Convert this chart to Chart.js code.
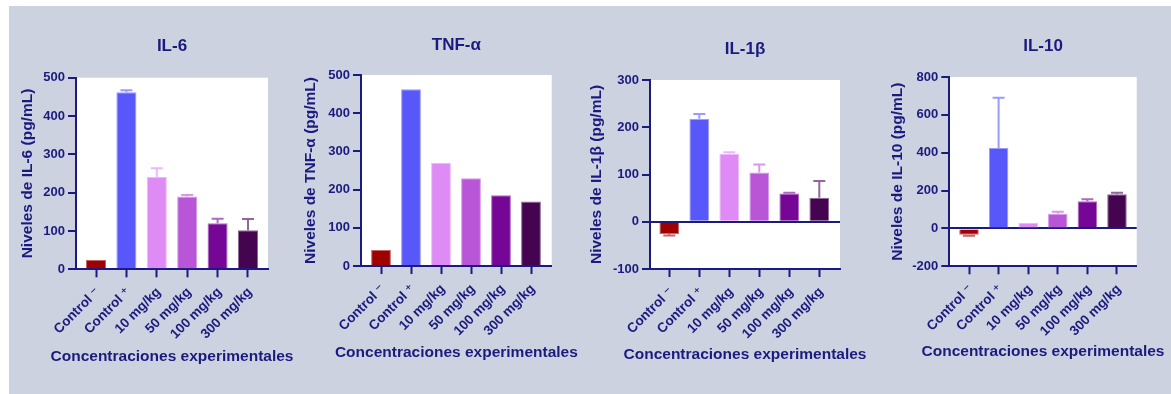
<!DOCTYPE html>
<html>
<head>
<meta charset="utf-8">
<script src="https://cdn.jsdelivr.net/npm/chart.js@4.4.1/dist/chart.umd.min.js"></script>
<style>
  html, body { margin: 0; padding: 0; background: #ffffff; width: 1171px; height: 394px; overflow: hidden; }
  #panel { position: absolute; left: 9px; top: 6px; right: 0; bottom: 0; background: #ccd2e0; }
  canvas { position: absolute; top: 0; }
</style>
</head>
<body>
<div id="panel"></div>
<canvas id="il6" width="300" height="394" style="left:9px"></canvas>
<canvas id="tnf" width="290" height="394" style="left:290px"></canvas>
<canvas id="il1b" width="290" height="394" style="left:580px"></canvas>
<canvas id="il10" width="301" height="394" style="left:870px"></canvas>
<script>
// ---- data ----
const categories = ['Control \u207B', 'Control \u207A', '10 mg/kg', '50 mg/kg', '100 mg/kg', '300 mg/kg'];
const barColors = ['#a00000', '#5858fa', '#de8bf5', '#b955d7', '#760796', '#440450'];

const il6Values  = [24, 462, 241, 190, 120, 102];
const il6Errors  = [0, 5, 23, 4, 12, 29];
const tnfValues  = [42, 463, 270, 230, 185, 169];
const tnfErrors  = [0, 0, 0, 0, 0, 0];
const il1bValues = [-26, 218, 144, 104, 60, 51];
const il1bErrors = [3, 10, 3, 17, 1.5, 35];
const il10Values = [-33, 425, 30, 77, 144, 181];
const il10Errors = [5, 265, 0, 11, 10, 7];

// y-axis ranges: [min, max, step]
const il6Axis  = [0, 500, 100];
const tnfAxis  = [0, 500, 100];
const il1bAxis = [-100, 300, 100];
const il10Axis = [-200, 800, 200];

const xAxisTitle = 'Concentraciones experimentales';

// ---- styling ----
const NAVY = '#1b1b7f';
const FONT = "'Liberation Sans', Arial, 'DejaVu Sans', sans-serif";

function lighten(hex, t) {
  const n = parseInt(hex.slice(1), 16);
  const r = (n >> 16) & 255, g = (n >> 8) & 255, b = n & 255;
  const m = c => Math.round(c + (255 - c) * t);
  return `rgb(${m(r)},${m(g)},${m(b)})`;
}
const edgeColors = barColors.map(c => lighten(c, 0.4));

// white plotting area behind the bars
const plotBackground = {
  id: 'plotBackground',
  beforeDraw(chart) {
    const { ctx, chartArea: a } = chart;
    ctx.save();
    ctx.fillStyle = '#ffffff';
    ctx.fillRect(a.left, a.top, a.right - a.left, a.bottom - a.top);
    ctx.restore();
  }
};

// one-sided error bars drawn away from zero
const errorBars = {
  id: 'errorBars',
  afterDatasetsDraw(chart, args, opts) {
    const errs = opts.errors;
    if (!errs) return;
    const ctx = chart.ctx;
    const yScale = chart.scales.y;
    const meta = chart.getDatasetMeta(0);
    const pts = chart.data.datasets[0].data;
    meta.data.forEach((bar, i) => {
      const e = errs[i];
      if (!e) return;
      const v = pts[i].y;
      const end = yScale.getPixelForValue(v + (v < 0 ? -e : e));
      ctx.save();
      ctx.strokeStyle = edgeColors[i];
      ctx.lineWidth = 2;
      ctx.beginPath();
      ctx.moveTo(bar.x, bar.y);
      ctx.lineTo(bar.x, end);
      ctx.moveTo(bar.x - 6, end);
      ctx.lineTo(bar.x + 6, end);
      ctx.stroke();
      ctx.restore();
    });
  }
};

// x-axis caption centred under the plotting area, at its natural width
const axisCaption = {
  id: 'axisCaption',
  afterDraw(chart, args, opts) {
    const { ctx, chartArea: a } = chart;
    ctx.save();
    ctx.fillStyle = NAVY;
    ctx.font = `bold ${opts.size}px ${FONT}`;
    ctx.textAlign = 'center';
    ctx.textBaseline = 'middle';
    ctx.fillText(opts.text, (a.left + a.right) / 2, opts.y);
    ctx.restore();
  }
};

function makePanel(id, title, yTitle, values, errors, axis, lay) {
  const points = values.map((v, i) => ({ x: i, y: v }));
  new Chart(document.getElementById(id), {
    type: 'bar',
    data: {
      datasets: [{
        data: points,
        backgroundColor: barColors,
        borderColor: edgeColors,
        borderWidth: 1,
        barPercentage: 0.66,
        categoryPercentage: 1
      }]
    },
    plugins: [plotBackground, errorBars, axisCaption],
    options: {
      responsive: false,
      animation: false,
      devicePixelRatio: 1,
      layout: { padding: { left: 0, right: lay.right, top: 0, bottom: 0 } },
      plugins: {
        legend: { display: false },
        tooltip: { enabled: false },
        title: {
          display: true, text: title, color: NAVY, fullSize: false,
          font: { family: FONT, size: 17, weight: 'bold' },
          padding: { top: lay.titleTop, bottom: lay.titleBottom }
        },
        errorBars: { errors: errors },
        axisCaption: { text: xAxisTitle, size: 15.5, y: lay.xTitleY }
      },
      scales: {
        x: {
          type: 'linear', min: lay.xMin, max: lay.xMax, offset: false,
          afterBuildTicks: s => { s.ticks = categories.map((_, i) => ({ value: i })); },
          afterFit: s => { s.height = lay.xHeight; },
          ticks: {
            callback: v => categories[v], autoSkip: false,
            minRotation: 45, maxRotation: 45, padding: 7, labelOffset: 2,
            color: NAVY, font: { family: FONT, size: 13.5, weight: 'bold' }
          },
          grid: { offset: false, drawOnChartArea: false, drawTicks: true, tickLength: 8, tickWidth: 2, tickColor: NAVY, color: NAVY },
          border: { color: NAVY, width: 2 }
        },
        y: {
          z: 1,
          min: axis[0], max: axis[1],
          afterFit: s => { s.width = lay.yWidth; },
          ticks: {
            stepSize: axis[2], padding: 3, color: NAVY,
            font: { family: FONT, size: 13, weight: 'bold' }
          },
          grid: {
            drawOnChartArea: true, drawTicks: true, tickLength: 8, tickWidth: 2, tickColor: NAVY,
            lineWidth: 2,
            color: c => (c.tick && c.tick.value === 0 ? NAVY : 'rgba(0,0,0,0)')
          },
          border: { color: NAVY, width: 2 },
          title: {
            display: true, text: yTitle, color: NAVY,
            font: { family: FONT, size: 15.5, weight: 'bold' },
            padding: { top: lay.yTitleTop, bottom: 0 }
          }
        }
      }
    }
  });
}

makePanel('il6', 'IL-6', 'Niveles de IL-6 (pg/mL)', il6Values, il6Errors, il6Axis,
  { right: 41, yWidth: 67, yTitleTop: 9.2, titleTop: 36.1, titleBottom: 21.2, xHeight: 124.7, xTitleY: 356.7, xMin: -0.658, xMax: 5.658 });
makePanel('tnf', 'TNF-\u03B1', 'Niveles de TNF-\u03B1 (pg/mL)', tnfValues, tnfErrors, tnfAxis,
  { right: 28.3, yWidth: 71, yTitleTop: 11.5, titleTop: 34.8, titleBottom: 19.8, xHeight: 128, xTitleY: 352.3, xMin: -0.667, xMax: 5.69 });
makePanel('il1b', 'IL-1\u03B2', 'Niveles de IL-1\u03B2 (pg/mL)', il1bValues, il1bErrors, il1bAxis,
  { right: 30, yWidth: 70, yTitleTop: 7.2, titleTop: 39.5, titleBottom: 20.1, xHeight: 125, xTitleY: 355, xMin: -0.643, xMax: 5.69 });
makePanel('il10', 'IL-10', 'Niveles de IL-10 (pg/mL)', il10Values, il10Errors, il10Axis,
  { right: 34.3, yWidth: 79.3, yTitleTop: 18.2, titleTop: 36.1, titleBottom: 20.5, xHeight: 127.7, xTitleY: 351.7, xMin: -0.666, xMax: 5.666 });
</script>
</body>
</html>
